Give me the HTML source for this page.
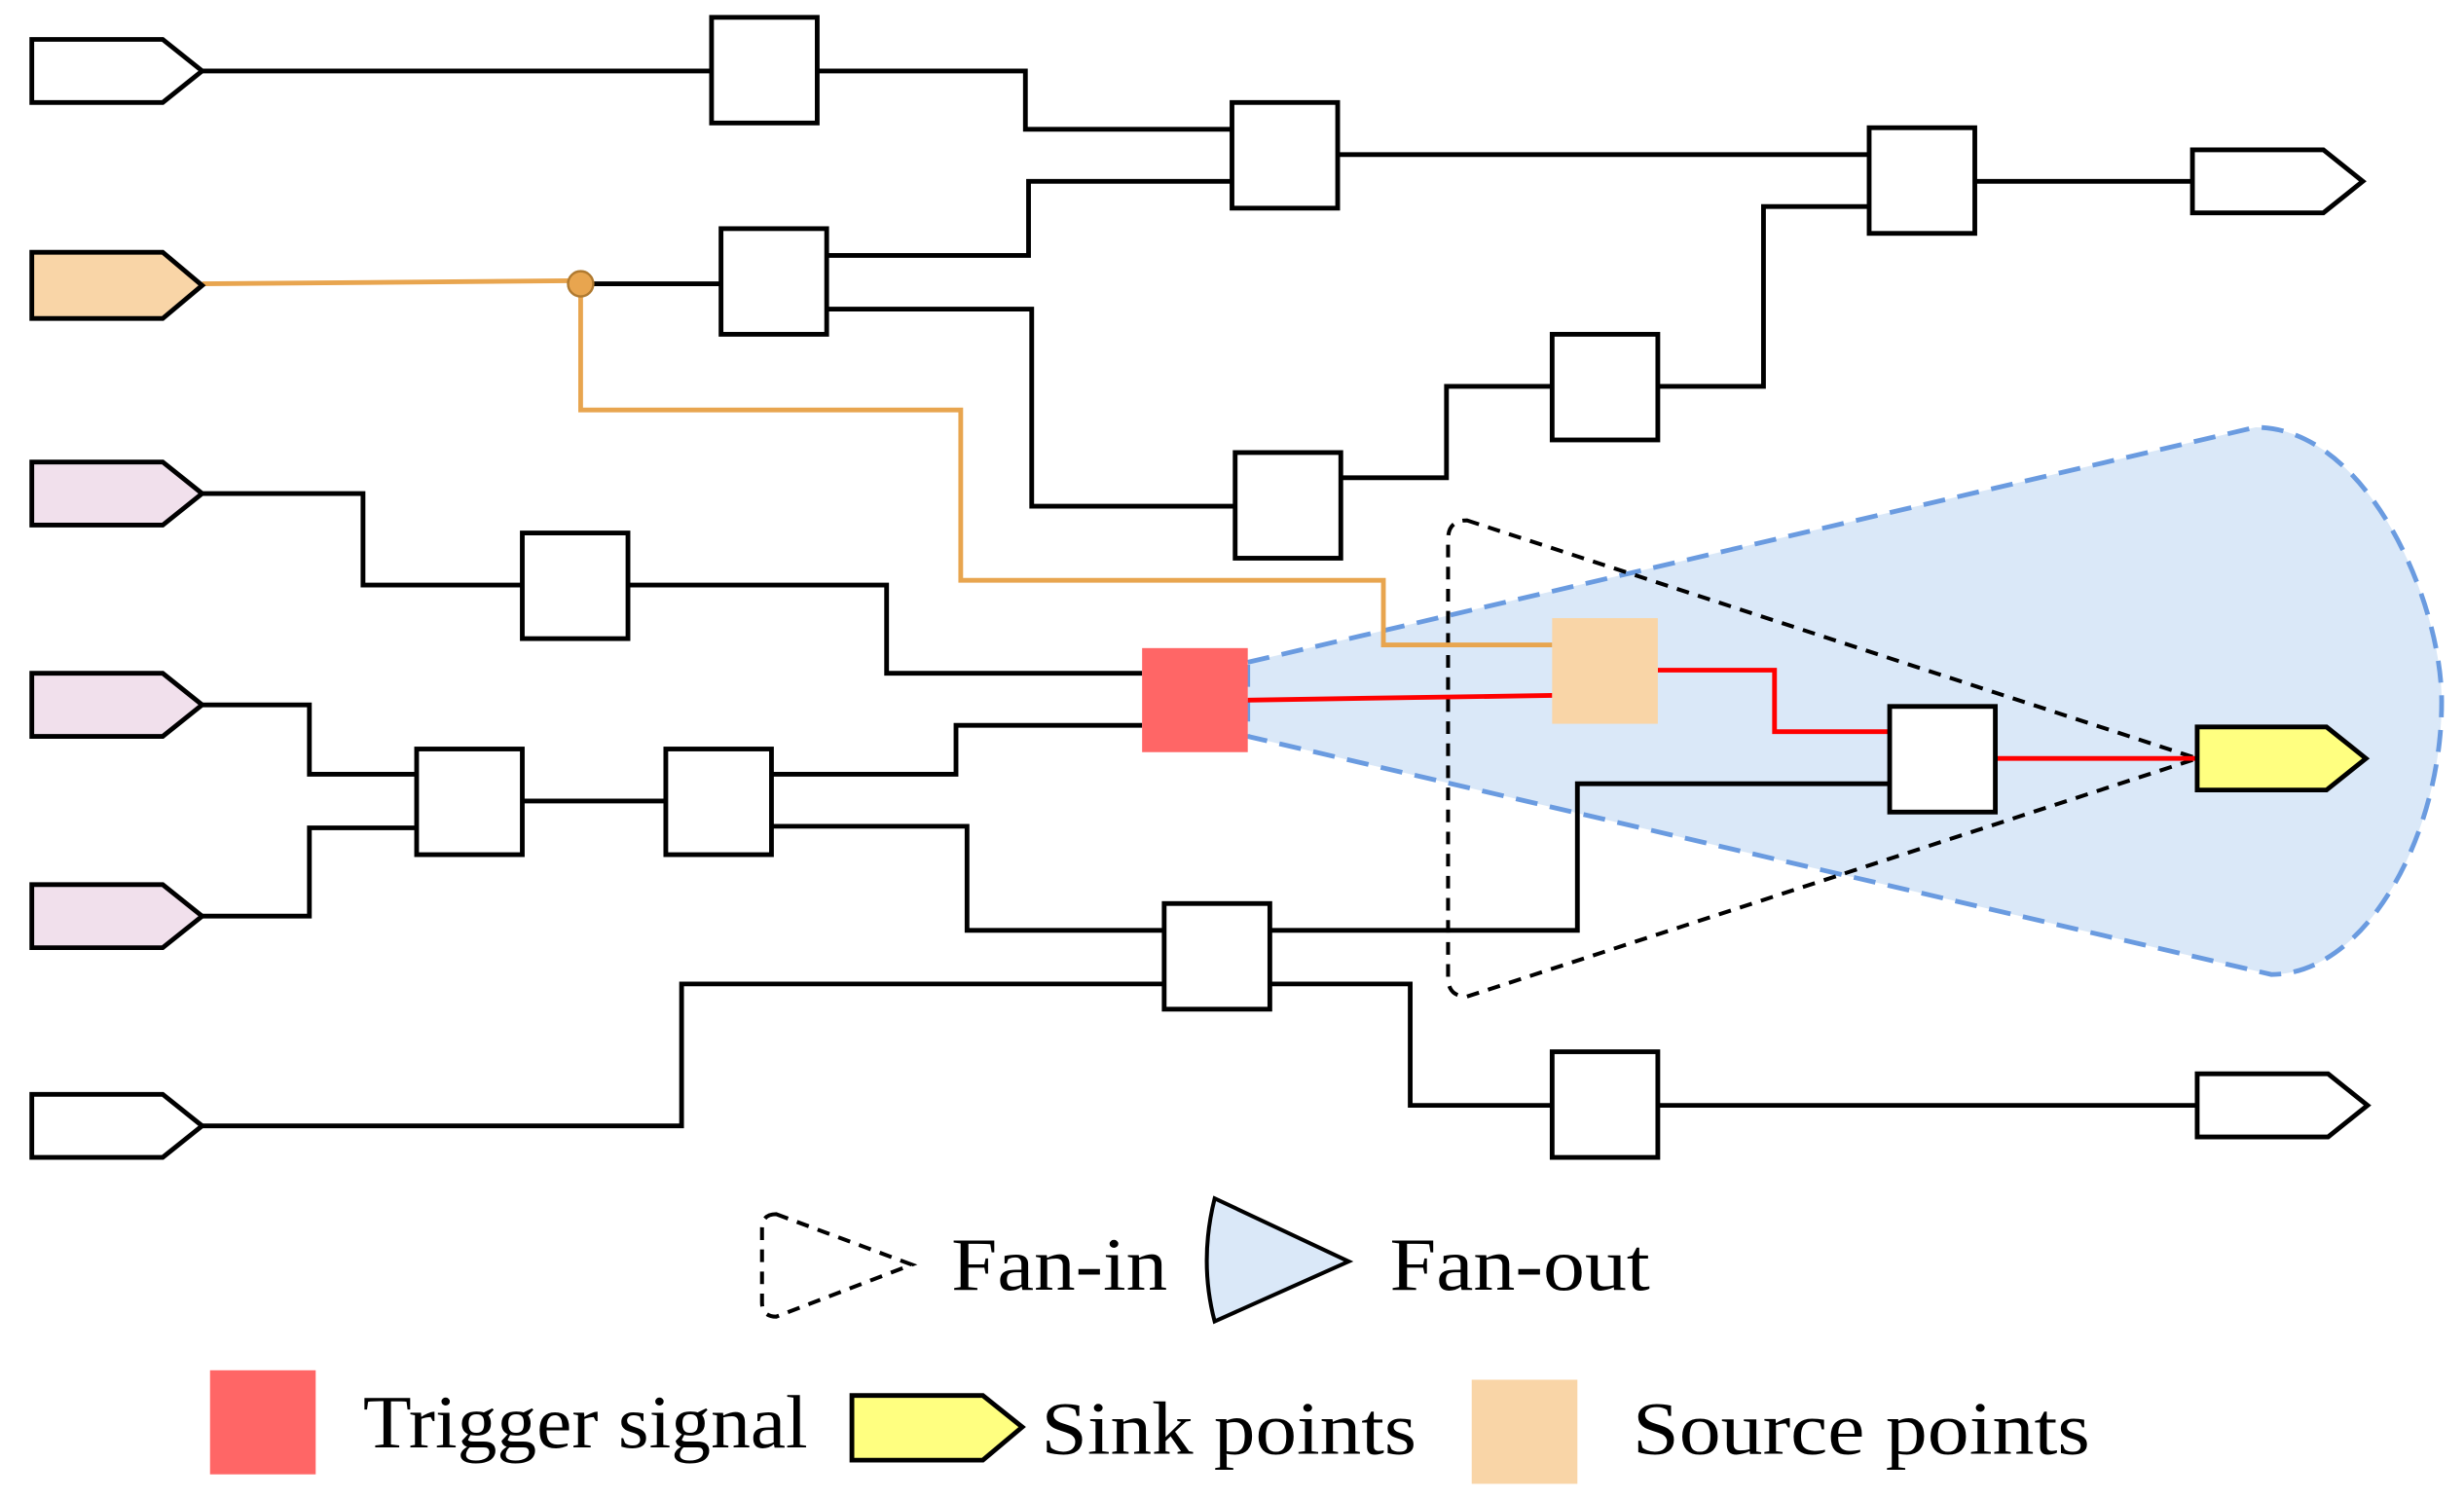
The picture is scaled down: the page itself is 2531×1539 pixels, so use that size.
<!DOCTYPE html>
<html><head><meta charset="utf-8"><style>
html,body{margin:0;padding:0;background:#fff;}
svg{display:block;}
text{font-family:"Liberation Serif",serif;font-size:48px;fill:#000;}
</style></head><body>
<svg width="2531" height="1539" viewBox="0 0 1562 950" xmlns="http://www.w3.org/2000/svg">
<path d="M791,420 L1430,271 C1500,271 1548,380 1548,445 C1548,530 1500,618 1440,618 L791,467 Z" fill="#dae8f8" stroke="#6a9be0" stroke-width="3" stroke-dasharray="14,8"/>
<path d="M930,330 L1393,481 L930,632 Q918,632 918,620 L918,342 Q918,330 930,330 Z" fill="none" stroke="#000" stroke-width="2.5" stroke-dasharray="8,6"/>

<g fill="none" stroke="#000" stroke-width="3">
<polyline points="128,45 451,45"/>
<polyline points="518,45 650,45 650,82 781,82"/>
<polyline points="524,162 652,162 652,115 781,115"/>
<polyline points="848,98 1185,98"/>
<polyline points="1252,115 1390,115"/>
<polyline points="1185,131 1118,131 1118,245 1051,245"/>
<polyline points="984,245 917,245 917,303 850,303"/>
<polyline points="783,321 654,321 654,196 524,196"/>
<polyline points="368,180 457,180"/>
<polyline points="128,313 230,313 230,371 331,371"/>
<polyline points="398,371 562,371 562,427 724,427"/>
<polyline points="128,447 196,447 196,491 264,491"/>
<polyline points="128,581 196,581 196,525 264,525"/>
<polyline points="331,508 422,508"/>
<polyline points="489,491 606,491 606,460 724,460"/>
<polyline points="489,524 613,524 613,590 738,590"/>
<polyline points="805,590 1000,590 1000,497 1198,497"/>
<polyline points="128,714 432,714 432,624 738,624"/>
<polyline points="805,624 894,624 894,701 984,701"/>
<polyline points="1051,701 1393,701"/>
</g>
<g fill="none" stroke="#e8a54f" stroke-width="3">
<polyline points="128,180 368,178"/>
<polyline points="368,180 368,260 609,260 609,368 877,368 877,409 984,409"/>
</g>
<circle cx="368" cy="180" r="8" fill="#e8a54f" stroke="#b07a30" stroke-width="1.5"/>
<g fill="none" stroke="#f00" stroke-width="3">
<polyline points="791,444 984,441"/>
<polyline points="1051,425 1125,425 1125,464 1198,464"/>
<polyline points="1265,481 1393,481"/>
</g>

<g fill="#fff" stroke="#000" stroke-width="3">
<rect x="451" y="11" width="67" height="67"/>
<rect x="781" y="65" width="67" height="67"/>
<rect x="1185" y="81" width="67" height="67"/>
<rect x="457" y="145" width="67" height="67"/>
<rect x="984" y="212" width="67" height="67"/>
<rect x="783" y="287" width="67" height="67"/>
<rect x="331" y="338" width="67" height="67"/>
<rect x="1198" y="448" width="67" height="67"/>
<rect x="264" y="475" width="67" height="67"/>
<rect x="422" y="475" width="67" height="67"/>
<rect x="738" y="573" width="67" height="67"/>
<rect x="984" y="667" width="67" height="67"/>
</g>
<rect x="724" y="411" width="67" height="66" fill="#ff6666"/>
<rect x="984" y="392" width="67" height="67" fill="#f9d5a7"/>

<g stroke="#000" stroke-width="3">
<polygon points="20,25 103,25 128,45 103,65 20,65" fill="#fff"/>
<polygon points="20,160 103,160 128,181 103,202 20,202" fill="#f9d5a7"/>
<polygon points="20,293 103,293 128,313 103,333 20,333" fill="#f1e0ec"/>
<polygon points="20,427 103,427 128,447 103,467 20,467" fill="#f1e0ec"/>
<polygon points="20,561 103,561 128,581 103,601 20,601" fill="#f1e0ec"/>
<polygon points="20,694 103,694 128,714 103,734 20,734" fill="#fff"/>
<polygon points="1390,95 1473,95 1498,115 1473,135 1390,135" fill="#fff"/>
<polygon points="1393,461 1475,461 1500,481 1475,501 1393,501" fill="#ffff80"/>
<polygon points="1393,681 1476,681 1501,701 1476,721 1393,721" fill="#fff"/>
</g>

<path d="M492,770 L578,802 L492,835 Q483,835 483,826 L483,779 Q483,770 492,770 Z" fill="none" stroke="#000" stroke-width="2.5" stroke-dasharray="8,6"/>
<text x="603" y="818" textLength="137" lengthAdjust="spacingAndGlyphs">Fan-in</text>
<path d="M770,760 L855,800 L770,838 Q760,800 770,760 Z" fill="#dae8f8" stroke="#000" stroke-width="2.5"/>
<text x="881" y="818" textLength="165" lengthAdjust="spacingAndGlyphs">Fan-out</text>
<rect x="133" y="869" width="67" height="66" fill="#ff6666"/>
<text x="230" y="918" textLength="282" lengthAdjust="spacingAndGlyphs">Trigger signal</text>
<polygon points="540,885 623,885 648,905 623,926 540,926" fill="#ffff80" stroke="#000" stroke-width="3"/>
<text x="660" y="922" textLength="238" lengthAdjust="spacingAndGlyphs">Sink points</text>
<rect x="933" y="875" width="67" height="66" fill="#f9d5a7"/>
<text x="1035" y="922" textLength="290" lengthAdjust="spacingAndGlyphs">Source points</text>
</svg>
</body></html>
